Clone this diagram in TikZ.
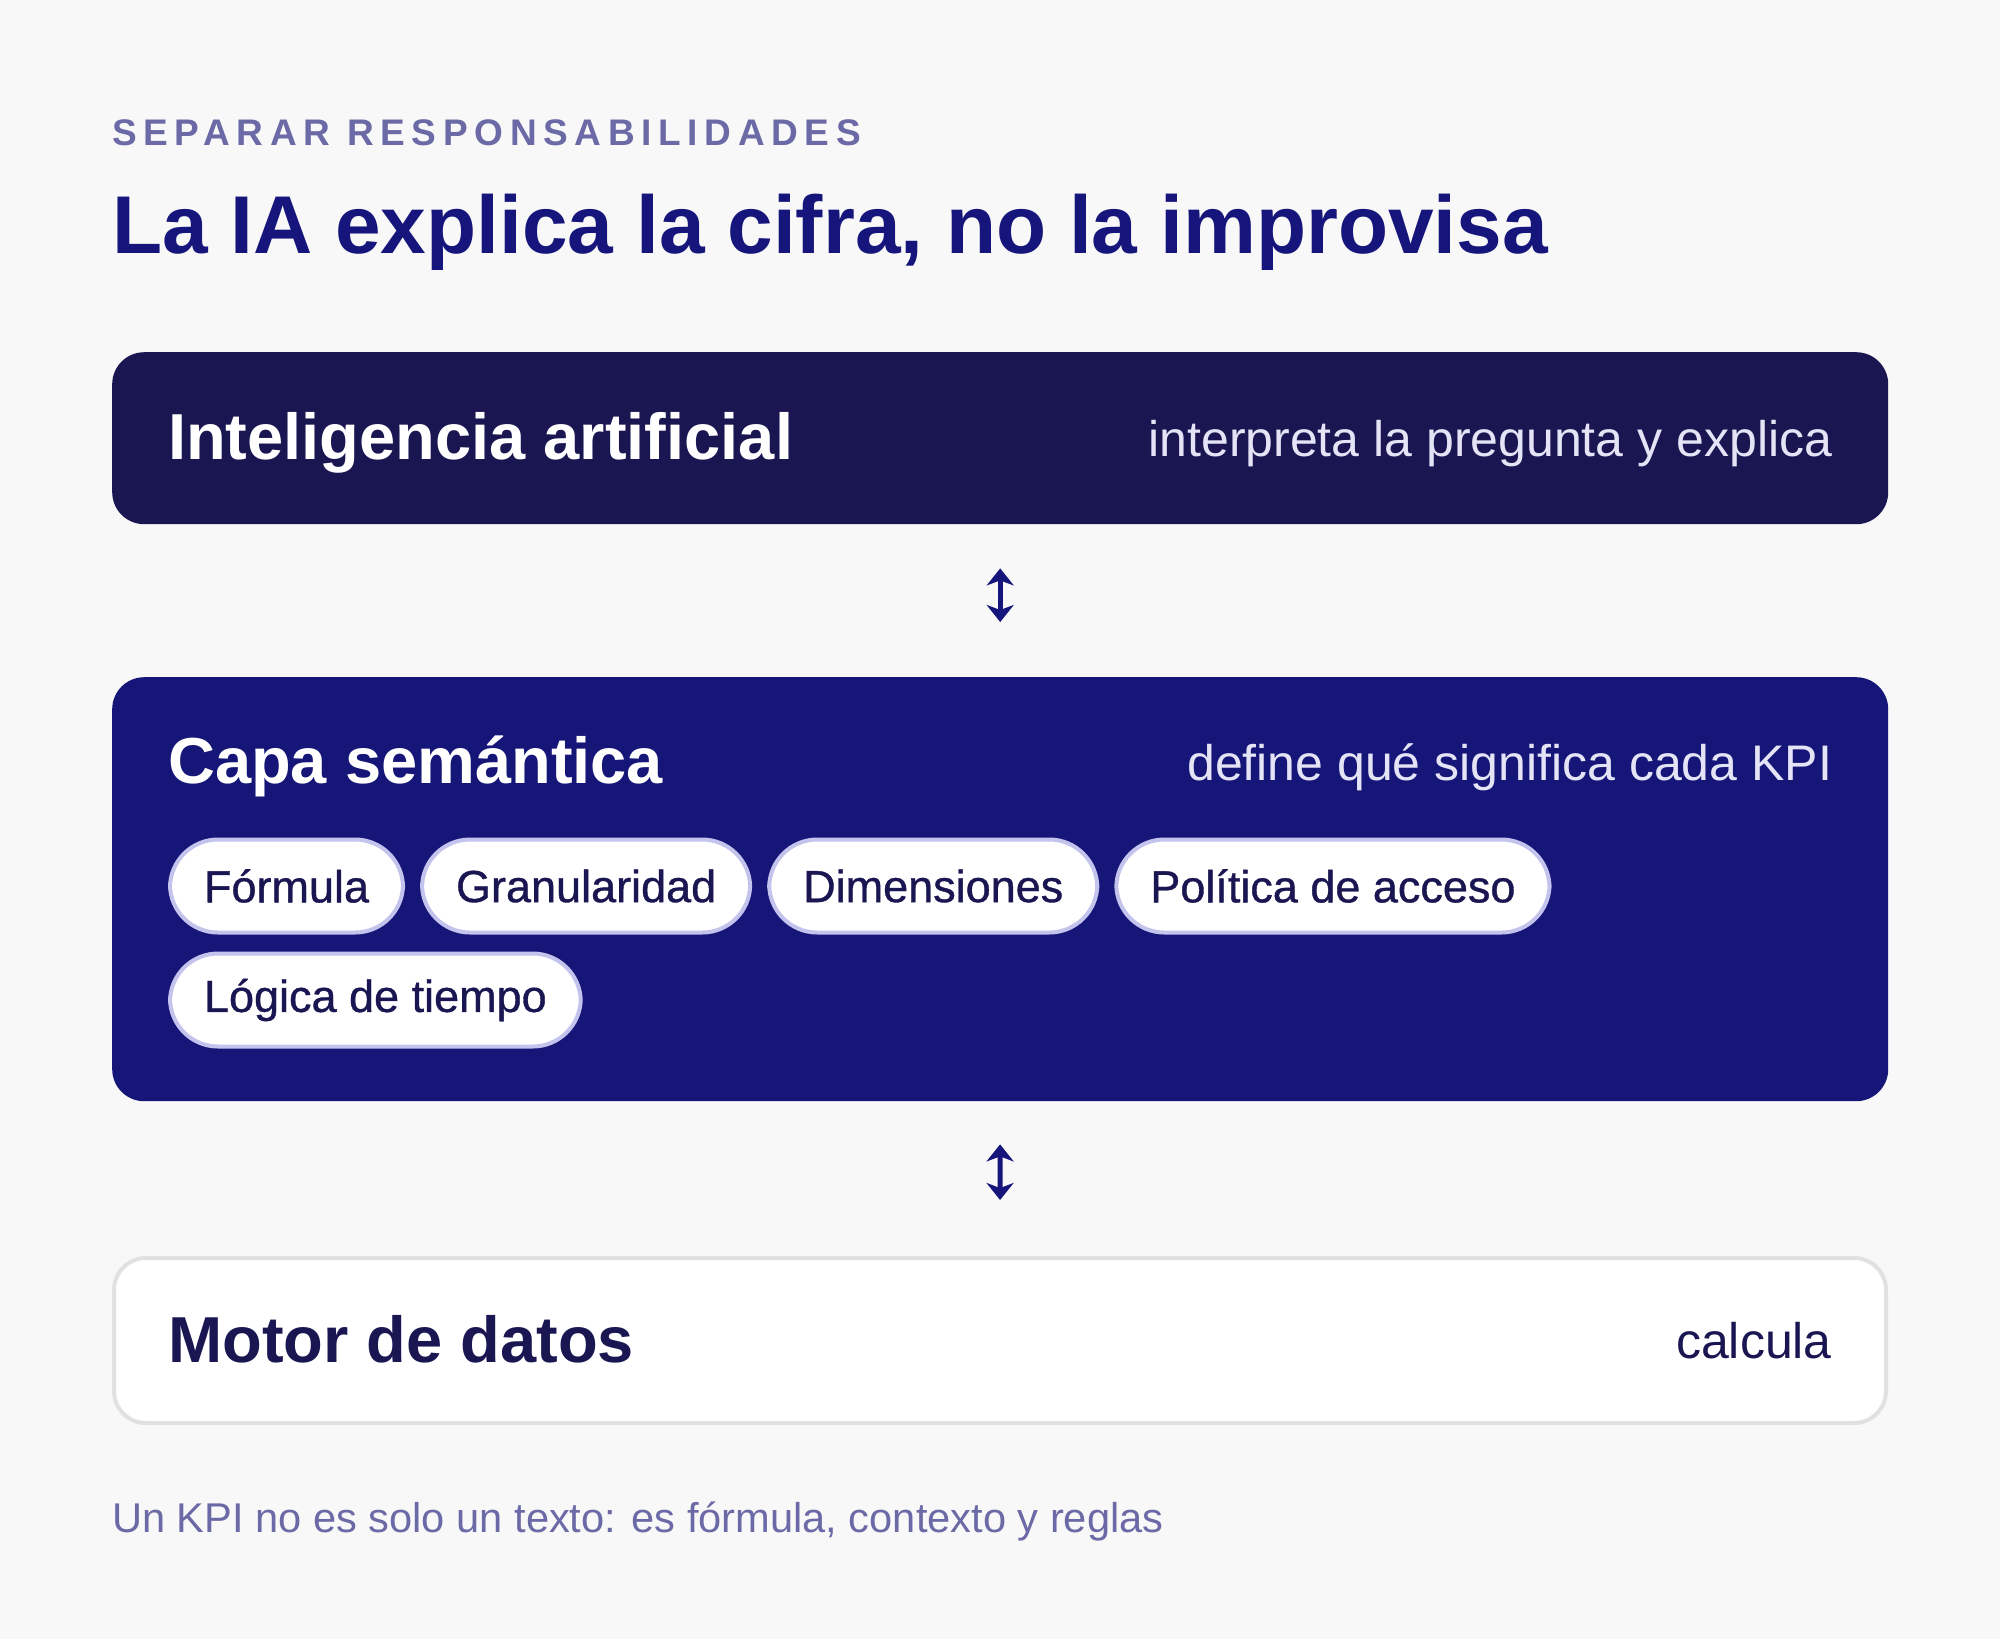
\documentclass[tikz,border=0pt]{standalone}
\usepackage{fontspec}
\setmainfont{Liberation Sans}
\usetikzlibrary{positioning,calc,arrows.meta}
\definecolor{bgcol}{HTML}{F8F8F8}
\definecolor{mutedtxt}{HTML}{6B69A6}
\definecolor{titleblue}{HTML}{16157B}
\definecolor{navy}{HTML}{191651}
\definecolor{royal}{HTML}{161678}
\definecolor{paletxt}{HTML}{E4E4F6}
\definecolor{pillline}{HTML}{C4C3EE}
\definecolor{cardline}{HTML}{E1E1E3}
\tikzset{
	layer/.style={anchor=north west, minimum width=1776pt, rounded corners=32pt, inner sep=0pt},
	layertitle/.style={anchor=base west, inner sep=0pt, font=\fontsize{65}{78}\selectfont\bfseries},
	layernote/.style={anchor=base east, inner sep=0pt, font=\fontsize{50}{60}\selectfont},
	pill/.style={fill=white, draw=pillline, line width=4pt, rounded corners=48pt, minimum height=93pt, inner xsep=34pt, inner ysep=0pt, text=navy, font=\fontsize{45}{54}\selectfont\addfontfeature{FakeBold=0.8}},
	link/.style={draw=titleblue, line width=5pt, >={Stealth[length=17pt,width=27pt,inset=5pt]}, <->}
}
\begin{document}
\begin{tikzpicture}[x=1pt,y=-1pt]
	\fill[bgcol] (0,0) rectangle (2000,1639);
	\useasboundingbox (0,0) rectangle (2000,1639);
	\node[anchor=base west, inner sep=0pt, text=mutedtxt, font=\fontsize{37}{44}\selectfont\bfseries\addfontfeature{LetterSpace=18}] (eyebrow) at (112,145) {SEPARAR RESPONSABILIDADES};
	\node[anchor=base west, inner sep=0pt, text=titleblue, font=\fontsize{82}{98}\selectfont\bfseries] (title) at (112,253) {La IA explica la cifra, no la improvisa};
	\node[layer, fill=navy, minimum height=172pt] (ia) at (112,352) {};
	\node[layertitle, text=white] (iatitle) at ($(ia.west)+(56,21)$) {Inteligencia artificial};
	\node[layernote, text=paletxt] (ianote) at ($(ia.east)+(-56,18)$) {interpreta la pregunta y explica};
	\node[layer, fill=royal, minimum height=424pt] (capa) at (112,677) {};
	\node[layertitle, text=white] (capatitle) at ($(capa.north west)+(56,106)$) {Capa semántica};
	\node[layernote, text=paletxt] (capanote) at ($(capa.north east)+(-56,103)$) {define qué significa cada KPI};
	\node[pill, anchor=west] (formula) at ($(capa.north west)+(56,209)$) {Fórmula};
	\node[pill, right=15pt of formula] (granul) {Granularidad};
	\node[pill, right=15pt of granul] (dimen) {Dimensiones};
	\node[pill, right=15pt of dimen] (politica) {Política de acceso};
	\node[pill, below=17pt of formula.south west, anchor=north west] (logica) {Lógica de tiempo};
	\node[layer, fill=white, draw=cardline, line width=4pt, minimum width=1772pt, minimum height=165pt] (motor) at (112,1256) {};
	\node[layertitle, text=navy] (motortitle) at ($(motor.west)+(56,22)$) {Motor de datos};
	\node[layernote, text=navy] (motornote) at ($(motor.east)+(-56,18)$) {calcula};
	\draw[link, shorten <=44pt, shorten >=55pt] (ia) -- (capa);
	\draw[link, shorten <=43pt, shorten >=56pt] (capa) -- (motor);
	\node[anchor=base west, inner sep=0pt, text=mutedtxt, font=\fontsize{41.6}{50}\selectfont] (footnote) at (112,1532) {Un KPI no es solo un texto: es fórmula, contexto y reglas};
\end{tikzpicture}
\end{document}
